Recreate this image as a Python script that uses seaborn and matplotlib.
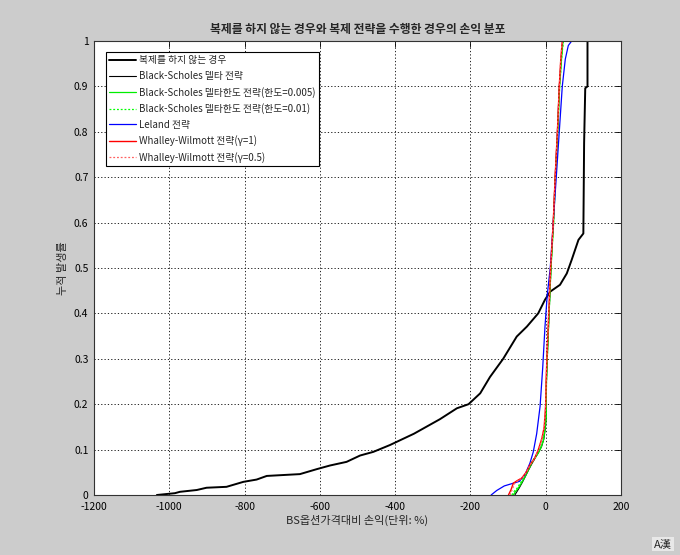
import matplotlib
matplotlib.use("Agg")
import matplotlib.pyplot as plt
import seaborn as sns
import pandas as pd

sns.set_style("white")
plt.rcParams['font.family'] = ['Noto Sans CJK KR', 'DejaVu Sans']
plt.rcParams['axes.unicode_minus'] = False

title = "복제를 하지 않는 경우와 복제 전략을 수행한 경우의 손익 분포"
xlabel = "BS옵션가격대비 손익(단위: %)"
ylabel = "누적 발생률"
labels = ["복제를 하지 않는 경우",
          "Black-Scholes 델타 전략",
          "Black-Scholes 델타한도 전략(한도=0.005)",
          "Black-Scholes 델타한도 전략(한도=0.01)",
          "Leland 전략",
          "Whalley-Wilmott 전략(γ=1)",
          "Whalley-Wilmott 전략(γ=0.5)"]

# No hedging
nohedge_x = [-1033, -985, -972, -927, -901, -848, -803, -768, -741, -653, -608, -573,
             -529, -493, -458, -414, -350, -281, -236, -205, -174, -148, -113, -77,
             -50, -20, -2, 12, 38, 56, 69, 87, 100, 102, 105, 111, 111]
nohedge_y = [0, 0.004, 0.007, 0.011, 0.016, 0.018, 0.029, 0.034, 0.042, 0.046, 0.057,
             0.065, 0.073, 0.087, 0.095, 0.11, 0.135, 0.167, 0.191, 0.2, 0.224, 0.26,
             0.30, 0.349, 0.371, 0.40, 0.43, 0.448, 0.463, 0.488, 0.518, 0.562, 0.576,
             0.775, 0.896, 0.90, 1.0]

# BS delta
bsd_x = [-82, -76, -70, -62, -54, -45, -36, -27, -19, -11, -5, -1, 1, 2, 5, 9, 14, 20, 25, 31, 36, 41, 45]
bsd_y = [0, 0.008, 0.016, 0.028, 0.041, 0.056, 0.07, 0.083, 0.094, 0.107, 0.123, 0.147,
         0.17, 0.25, 0.32, 0.40, 0.5, 0.6, 0.7, 0.8, 0.9, 0.96, 1.0]

# BS delta band 0.005
band1_x = [-86, -80, -73, -64, -55, -46, -37, -28, -20, -12, -6, -2, 1, 2, 5, 9, 14, 21, 26, 32, 37, 42, 46]
band1_y = [0, 0.008, 0.015, 0.027, 0.04, 0.055, 0.07, 0.082, 0.092, 0.105, 0.121, 0.145,
           0.17, 0.25, 0.32, 0.40, 0.5, 0.6, 0.7, 0.8, 0.9, 0.96, 1.0]

# BS delta band 0.01
band2_x = [-90, -84, -76, -67, -57, -48, -39, -30, -21, -13, -7, -2, 1, 2, 5, 9, 14, 21, 26, 32, 37, 42, 47]
band2_y = [0, 0.008, 0.015, 0.027, 0.04, 0.055, 0.07, 0.082, 0.092, 0.105, 0.121, 0.145,
           0.17, 0.25, 0.32, 0.40, 0.5, 0.6, 0.7, 0.8, 0.9, 0.96, 1.0]

# Leland
leland_x = [-145, -130, -110, -90, -70, -55, -42, -33, -24, -15, -8, -2, 4, 12, 20, 28, 36, 44, 52, 60, 69]
leland_y = [0, 0.01, 0.02, 0.025, 0.03, 0.045, 0.07, 0.095, 0.135, 0.195, 0.28, 0.37,
            0.44, 0.50, 0.60, 0.70, 0.80, 0.90, 0.96, 0.99, 1.0]

# Whalley-Wilmott gamma=1
ww1_x = [-99, -92, -86, -75, -64, -52, -42, -30, -20, -10, -4, 0, 1, 4, 8, 13, 20, 25, 31, 36, 40, 44]
ww1_y = [0, 0.012, 0.026, 0.032, 0.037, 0.05, 0.066, 0.08, 0.099, 0.125, 0.15, 0.2,
         0.25, 0.32, 0.40, 0.5, 0.6, 0.7, 0.8, 0.9, 0.96, 1.0]

# Whalley-Wilmott gamma=0.5
ww05_x = [-95, -89, -83, -73, -62, -51, -41, -29, -19, -10, -4, 0, 1, 4, 8, 13, 20, 25, 31, 36, 40, 44]
ww05_y = [0, 0.012, 0.025, 0.032, 0.038, 0.051, 0.067, 0.081, 0.1, 0.126, 0.15, 0.2,
          0.25, 0.32, 0.40, 0.5, 0.6, 0.7, 0.8, 0.9, 0.96, 1.0]

xticks = [-1200, -1000, -800, -600, -400, -200, 0, 200]
yticks = [0, 0.1, 0.2, 0.3, 0.4, 0.5, 0.6, 0.7, 0.8, 0.9, 1]

series = [
    (nohedge_x, nohedge_y, dict(color="black", lw=1.4, ls="-")),
    (bsd_x, bsd_y, dict(color="black", lw=0.8, ls="-")),
    (band1_x, band1_y, dict(color="#00ee00", lw=0.9, ls="-")),
    (band2_x, band2_y, dict(color="#00ff00", lw=0.9, ls=(0, (1.5, 1.5)))),
    (leland_x, leland_y, dict(color="#0000ff", lw=0.9, ls="-")),
    (ww1_x, ww1_y, dict(color="#ff0000", lw=1.0, ls="-")),
    (ww05_x, ww05_y, dict(color="#ff6060", lw=0.9, ls=(0, (1.5, 1.5)))),
]

fig = plt.figure(figsize=(6.8, 5.55), dpi=100, facecolor="#cccccc")
ax = fig.add_axes([94/680, 1-495/555, (621-94)/680, (495-41)/555])
ax.set_facecolor("white")

for (xs, ys, st), lab in zip(series, labels):
    df = pd.DataFrame({"x": xs, "y": ys})
    sns.lineplot(data=df, x="x", y="y", ax=ax, sort=False, estimator=None,
                 color=st["color"], linewidth=st["lw"], linestyle=st["ls"], label=lab)

ax.set_xlim(-1200, 200)
ax.set_ylim(0, 1)
ax.set_xticks(xticks)
ax.set_xticklabels([str(t) for t in xticks])
ax.set_yticks(yticks)
ax.set_yticklabels(["0", "0.1", "0.2", "0.3", "0.4", "0.5", "0.6", "0.7", "0.8", "0.9", "1"])
ax.tick_params(direction="in", length=4, width=0.6, top=True, right=True,
               labelsize=7.5, colors="black")
ax.tick_params(axis="x", pad=5)
ax.tick_params(axis="y", pad=4)
ax.grid(True, color="black", linestyle=(0, (1.5, 2.5)), linewidth=0.6)
for s in ax.spines.values():
    s.set_color("#333333")
    s.set_linewidth(0.8)

ax.set_title(title, fontsize=8.5, pad=6, fontweight="bold")
ax.set_xlabel(xlabel, fontsize=8, labelpad=2)
ax.set_ylabel(ylabel, fontsize=8, labelpad=4)

leg = ax.legend(loc="upper left", bbox_to_anchor=(0.022, 0.976), fontsize=7,
                frameon=True, fancybox=False, edgecolor="black", framealpha=1,
                handlelength=2.8, handletextpad=0.3, labelspacing=0.58,
                borderpad=0.35, borderaxespad=0)
leg.get_frame().set_linewidth(0.8)

fig.text(0.975, 0.02, "A漢", fontsize=8, ha="center", va="center",
         bbox=dict(boxstyle="square,pad=0.15", facecolor="#e8e8e8", edgecolor="none"))

fig.savefig("out.png", dpi=100, facecolor=fig.get_facecolor())
